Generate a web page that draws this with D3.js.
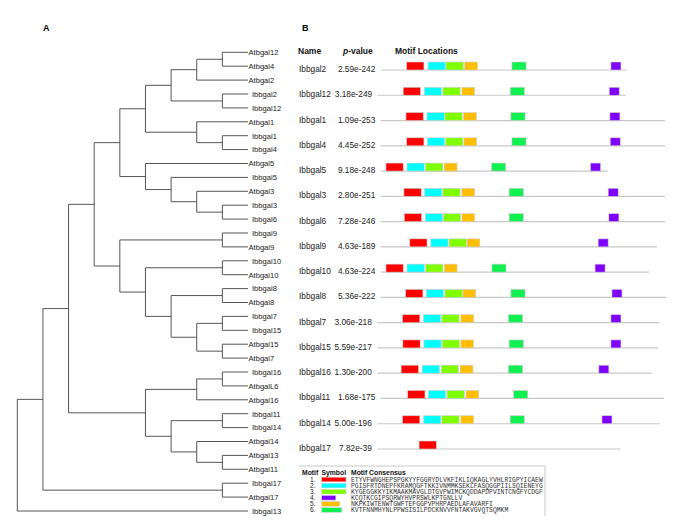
<!DOCTYPE html>
<html><head><meta charset="utf-8">
<script src="https://cdn.jsdelivr.net/npm/d3@7"></script>
<style>
body{margin:0;background:#fff;}
svg{display:block;font-family:"Liberation Sans",Arial,sans-serif;}
</style></head>
<body><svg id="c" width="685" height="526"></svg>
<script>
// ---------- Panel A: phylogenetic tree (nested clades) ----------
const cladeA1 = [[["Atbgal12","Atbgal4"],"Atbgal2"],["Ibbgal2","Ibbgal12"]];
const cladeA2 = ["Atbgal1",["Ibbgal1","Ibbgal4"]];
const cladeB  = ["Atbgal5",["Ibbgal5",["Atbgal3",["Ibbgal3","Ibbgal6"]]]];
const cladeC  = [["Ibbgal9","Atbgal9"],[["Ibbgal10","Atbgal10"],[["Ibbgal8","Atbgal8"],[["Ibbgal7","Ibbgal15"],["Atbgal15","Atbgal7"]]]]];
const cladeD  = [[["Ibbgal16","AtbgalL6"],"Atbgal16"],[["Ibbgal11","Ibbgal14"],["Atbgal14",["Atbgal13","Atbgal11"]]]];
const cladeE  = ["Ibbgal17","Atbgal17"];
const treeData = [[[[[[cladeA1,cladeA2],cladeB],cladeC],cladeD],cladeE],"Ibbgal13"];

// ---------- Panel B: motif locations ----------
const names = ["Ibbgal2","Ibbgal12","Ibbgal1","Ibbgal4","Ibbgal5","Ibbgal3","Ibbgal6","Ibbgal9","Ibbgal10","Ibbgal8","Ibbgal7","Ibbgal15","Ibbgal16","Ibbgal11","Ibbgal14","Ibbgal17"];
const pValues = ["2.59e-242","3.18e-249","1.09e-253","4.45e-252","9.18e-248","2.80e-251","7.28e-246","4.63e-189","4.63e-224","5.36e-222","3.06e-218","5.59e-217","1.30e-200","1.68e-175","5.00e-196","7.82e-39"];
const seqStart = [11,2,11,11,11,11,11,11,11,11,1,1,1,11,1,1];
const seqEnd   = [725,721,835,835,668,835,835,812,789,838,818,815,796,832,820,706];
const motif1 = [86,76,84,86,26,78,79,95,26,83,74,75,70,89,74,122];
const motif2 = [148,137,145,146,87,138,140,156,87,143,135,136,131,149,135,null];
const motif3 = [200,191,197,199,141,191,192,209,141,197,188,189,186,203,188,null];
const motif4 = [678,673,675,676,619,670,672,641,632,681,678,678,643,null,652,null];
const motif5 = [254,246,251,252,195,246,246,261,195,249,243,243,241,258,243,null];
const motif6 = [391,386,388,391,332,383,383,null,333,388,381,383,381,396,386,null];
const motifStarts = [motif1,motif2,motif3,motif4,motif5,motif6];
const motifLengths = [50,50,50,29,37,41];
const motifColors = ["#ff0000","#00ffff","#80ff00","#8000ff","#ffbf00","#10f050"];
const motifNumbers = ["1.","2.","3.","4.","5.","6."];
const consensus = [
 "ETYVFWNGHEPSPGKYYFGGRYDLVKFIKLIQKAGLYVHLRIGPYICAEW",
 "PGISFRTDNEPFKRAMQGFTKKIVNMMKSEKLFASQGGPIILSQIENEYG",
 "KYGEGGKKYIKMAAKMAVGLDTGVPWIMCKQDDAPDPVINTCNGFYCDGF",
 "KCQTKCGIPSQRWYHVPRSWLKPTGNLLV",
 "NKPKIWTENWTGWFTEFGGPVPHRPAEDLAFAVARFI",
 "KVTFNNMHYNLPPWSISILPDCKNVVFNTAKVGVQTSQMKM"
];

const svg = d3.select("#c");

// ===== Panel A =====
svg.append("text").attr("x",43).attr("y",30.5).attr("font-size",9).attr("font-weight","bold").text("A");

const root = d3.hierarchy(treeData, d => Array.isArray(d) ? d : null);
d3.cluster().nodeSize([1,1]).separation(() => 1)(root);
const leaves = root.leaves();
const ty = d3.scaleLinear().domain(d3.extent(leaves, d => d.x)).range([52.3, 511]);
const tx = d3.scaleLinear().domain([0, root.height]).range([17.3, 248]);

const tg = svg.append("g");
root.descendants().forEach(n => {
  if (n.children) {
    const ys = n.children.map(c => ty(c.x));
    tg.append("line").attr("x1",tx(n.y)).attr("x2",tx(n.y))
      .attr("y1",d3.min(ys)).attr("y2",d3.max(ys))
      .attr("stroke","#555").attr("stroke-width",1);
    n.children.forEach(c => {
      tg.append("line").attr("x1",tx(n.y)).attr("x2",tx(c.y))
        .attr("y1",ty(c.x)).attr("y2",ty(c.x))
        .attr("stroke","#555").attr("stroke-width",1);
    });
  }
});
tg.selectAll("text.leaf").data(leaves).join("text")
  .attr("class","leaf")
  .attr("x", d => tx(d.y) + (d.data.startsWith("Ib") ? 4 : 0.5))
  .attr("y", d => ty(d.x) + 2.8)
  .attr("font-size",7.6).attr("fill","#222")
  .text(d => d.data);

// ===== Panel B =====
svg.append("text").attr("x",302).attr("y",31).attr("font-size",9).attr("font-weight","bold").text("B");
const hdr = svg.append("g").attr("font-size",8.5).attr("font-weight","bold").attr("fill","#111");
hdr.append("text").attr("x",298).attr("y",53.5).text("Name");
const pv = hdr.append("text").attr("x",343).attr("y",53.5);
pv.append("tspan").attr("font-style","italic").text("p");
pv.append("tspan").text("-value");
hdr.append("text").attr("x",395).attr("y",53.5).text("Motif Locations");

const xs = d3.scaleLinear().domain([0, 826]).range([377, 662]);
const rowY = d3.scaleLinear().domain([0, names.length - 1]).range([70, 449]);
const boxH = 8;

const rows = svg.append("g");
names.forEach((nm, i) => {
  const y = rowY(i);
  rows.append("text").attr("x",299).attr("y",y+2).attr("font-size",8.3).attr("fill","#222").text(nm);
  rows.append("text").attr("x",xs(seqStart[i]) - 5.5).attr("y",y+2).attr("text-anchor","end")
    .attr("font-size",8.3).attr("fill","#222").text(pValues[i]);
  rows.append("line").attr("x1",xs(seqStart[i])).attr("x2",xs(seqEnd[i]))
    .attr("y1",y).attr("y2",y).attr("stroke","#c8c8c8").attr("stroke-width",1.2);
  motifStarts.forEach((arr, m) => {
    const s = arr[i];
    if (s === null) return;
    rows.append("rect").attr("x",xs(s)).attr("y",y - boxH)
      .attr("width",xs(s + motifLengths[m]) - xs(s)).attr("height",boxH)
      .attr("fill",motifColors[m]).attr("stroke","#cfcfcf").attr("stroke-width",0.6);
  });
});

// ===== Legend =====
const lg = svg.append("g");
lg.append("line").attr("x1",299).attr("x2",545).attr("y1",466).attr("y2",466).attr("stroke","#bbb").attr("stroke-width",0.8);
lg.append("line").attr("x1",545).attr("x2",545).attr("y1",466).attr("y2",516).attr("stroke","#bbb").attr("stroke-width",0.8);
const lh = lg.append("g").attr("font-size",6.8).attr("font-weight","bold").attr("fill","#111");
lh.append("text").attr("x",302).attr("y",474.5).text("Motif");
lh.append("text").attr("x",321.5).attr("y",474.5).text("Symbol");
lh.append("text").attr("x",351).attr("y",474.5).text("Motif Consensus");
const legY = d3.scaleLinear().domain([0,5]).range([479.5, 510]);
const legW = d3.scaleLinear().domain([0,50]).range([0,24.3]);
motifNumbers.forEach((num, m) => {
  const y = legY(m);
  lg.append("text").attr("x",315.5).attr("y",y+2.2).attr("text-anchor","end").attr("font-size",6.5).attr("fill","#222").text(num);
  lg.append("rect").attr("x",321.7).attr("y",y-2.3).attr("width",legW(motifLengths[m])).attr("height",4.6)
    .attr("fill",motifColors[m]).attr("stroke","#cfcfcf").attr("stroke-width",0.5);
  lg.append("text").attr("x",351).attr("y",y+2.2).attr("font-family","'Liberation Mono','Courier New',monospace")
    .attr("font-size",6.4).attr("fill","#333").text(consensus[m]);
});
</script></body></html>
